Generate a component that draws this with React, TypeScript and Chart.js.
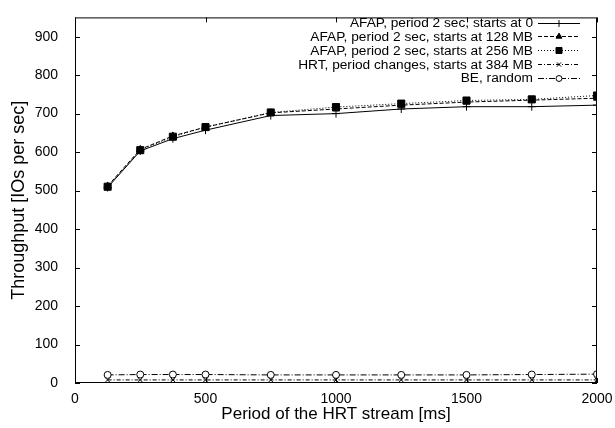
import React, { useEffect, useRef } from "react";
import { Chart, registerables } from "chart.js";
import { drawPoint } from "chart.js/helpers";

Chart.register(...registerables);

const periods = [125, 250, 375, 500, 750, 1000, 1250, 1500, 1750, 2000];
const afapStart0 = [508, 603, 635, 657, 695, 700, 712, 718, 718, 722];
const afapStart128 = [512, 607, 642, 665, 702, 712, 722, 730, 735, 740];
const afapStart256 = [510, 605, 640, 665, 703, 717, 726, 734, 737, 747];
const hrtStart384 = [8, 8, 8, 8, 8, 8, 8, 8, 8, 8];
const beRandom = [21, 22, 22, 22, 21, 21, 21, 21, 22, 23];

const seriesLabels = [
  "AFAP, period 2 sec, starts at 0",
  "AFAP, period 2 sec, starts at 128 MB",
  "AFAP, period 2 sec, starts at 256 MB",
  "HRT, period changes, starts at 384 MB",
  "BE, random",
];
const xTicks = [0, 500, 1000, 1500, 2000];
const yTicks = [0, 100, 200, 300, 400, 500, 600, 700, 800, 900];

const FONT = "'Liberation Sans', Arial, Helvetica, sans-serif";

const styles = [
  { dash: [] as number[], point: "cross", radius: 4, fill: "#000" },
  { dash: [4, 2], point: "triangle", radius: 4, fill: "#000" },
  { dash: [1, 2], point: "rect", radius: 5, fill: "#000" },
  { dash: [4, 2, 1, 2], point: "crossRot", radius: 3.5, fill: "#000" },
  { dash: [6, 2, 1, 2], point: "circle", radius: 3.5, fill: "#fff" },
];

const framePlugin = {
  id: "frame",
  afterDatasetsDraw(chart: any) {
    const { ctx, chartArea } = chart;
    const { left, right, top, bottom } = chartArea;
    const xs = chart.scales.x;
    const ys = chart.scales.y;
    ctx.save();
    ctx.strokeStyle = "#000";
    ctx.lineWidth = 1;
    ctx.setLineDash([]);
    ctx.strokeRect(left + 0.5, top + 0.5, right - left - 1, bottom - top - 1);
    const tl = 5;
    ctx.beginPath();
    for (const v of yTicks) {
      const y = Math.round(ys.getPixelForValue(v)) + 0.5;
      ctx.moveTo(left, y);
      ctx.lineTo(left + tl, y);
      ctx.moveTo(right, y);
      ctx.lineTo(right - tl, y);
    }
    for (const v of xTicks) {
      const x = Math.round(xs.getPixelForValue(v)) + 0.5;
      ctx.moveTo(x, bottom);
      ctx.lineTo(x, bottom - tl);
      ctx.moveTo(x, top);
      ctx.lineTo(x, top + tl);
    }
    ctx.stroke();
    ctx.restore();
  },
};

const legendPlugin = {
  id: "gpLegend",
  afterDraw(chart: any) {
    const { ctx } = chart;
    ctx.save();
    ctx.font = `13.7px ${FONT}`;
    ctx.fillStyle = "#000";
    ctx.textAlign = "right";
    ctx.textBaseline = "middle";
    const textRight = 533;
    const x0 = 538;
    const x1 = 580;
    seriesLabels.forEach((label, i) => {
      const y = 22.5 + i * 13.75;
      ctx.fillText(label, textRight, y + 1);
      const st = styles[i];
      ctx.strokeStyle = "#000";
      ctx.lineWidth = 1;
      ctx.setLineDash(st.dash);
      ctx.beginPath();
      ctx.moveTo(x0, Math.round(y) + 0.5);
      ctx.lineTo(x1, Math.round(y) + 0.5);
      ctx.stroke();
      ctx.setLineDash([]);
      ctx.fillStyle = st.fill;
      drawPoint(ctx, { pointStyle: st.point, radius: st.radius * 0.85, borderWidth: 1, rotation: 0 }, (x0 + x1) / 2, Math.round(y) + 0.5);
      ctx.fillStyle = "#000";
    });
    ctx.restore();
  },
};

export default function App() {
  const ref = useRef<HTMLCanvasElement | null>(null);
  useEffect(() => {
    if (!ref.current) return;
    const allSeries = [afapStart0, afapStart128, afapStart256, hrtStart384, beRandom];
    const chart = new Chart(ref.current, {
      type: "line",
      data: {
        datasets: allSeries.map((vals, i) => ({
          label: seriesLabels[i],
          data: vals.map((v, j) => ({ x: periods[j], y: v })),
          borderColor: "#000",
          borderWidth: 1,
          borderDash: styles[i].dash,
          pointStyle: styles[i].point as any,
          pointRadius: styles[i].radius,
          pointBorderColor: "#000",
          pointBackgroundColor: styles[i].fill,
          pointBorderWidth: 1,
          tension: 0,
          fill: false,
          order: i === 2 ? 0 : 5 - i,
        })),
      },
      options: {
        animation: false,
        responsive: false,
        events: [],
        layout: { padding: { top: 11, right: 18, left: 0, bottom: 0 } },
        plugins: { legend: { display: false }, tooltip: { enabled: false } },
        scales: {
          x: {
            type: "linear",
            min: 0,
            max: 2000,
            afterBuildTicks: (s: any) => {
              s.ticks = xTicks.map((v) => ({ value: v }));
            },
            afterFit: (s: any) => {
              s.height = 45;
            },
            grid: { display: false },
            border: { display: false },
            ticks: {
              color: "#000",
              font: { family: FONT, size: 14 },
              padding: 0,
              maxRotation: 0,
              callback: (v: any) => String(v),
            },
            title: {
              display: true,
              text: "Period of the HRT stream [ms]",
              color: "#000",
              font: { family: FONT, size: 17 },
              padding: { top: 0, bottom: 3 },
            },
          },
          y: {
            type: "linear",
            min: 0,
            max: 950,
            afterBuildTicks: (s: any) => {
              s.ticks = yTicks.map((v) => ({ value: v }));
            },
            afterFit: (s: any) => {
              s.width = 75;
            },
            grid: { display: false },
            border: { display: false },
            ticks: {
              color: "#000",
              font: { family: FONT, size: 14 },
              padding: 9,
              callback: (v: any) => String(v),
            },
            title: {
              display: true,
              text: "Throughput [IOs per sec]",
              color: "#000",
              font: { family: FONT, size: 18 },
              padding: { top: 8, bottom: 0 },
            },
          },
        },
      },
      plugins: [framePlugin, legendPlugin],
    });
    return () => chart.destroy();
  }, []);
  return (
    <div style={{ position: "fixed", left: 0, top: 0, width: 615, height: 428, background: "#fff" }}>
      <canvas ref={ref} width={615} height={428} style={{ display: "block" }} />
    </div>
  );
}
